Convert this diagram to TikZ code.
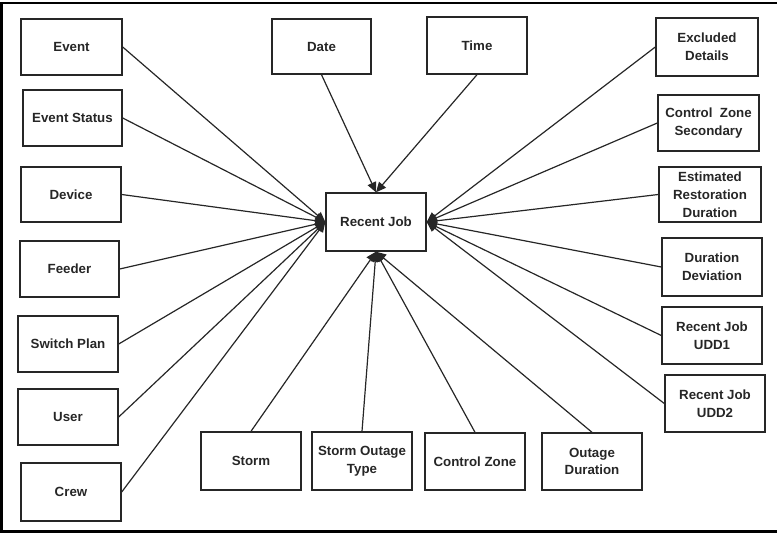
\documentclass[tikz,border=0pt]{standalone}
\usepackage{fontspec}
\setmainfont{Liberation Sans}
\usetikzlibrary{arrows.meta}
\tikzset{
  box/.style={draw=black!85, line width=1.4pt, rectangle, minimum width=100pt, minimum height=56pt,
    inner sep=0pt, align=center, font=\fontsize{13.3}{17.8}\selectfont\bfseries, text=black!85},
  link/.style={draw=black!85, line width=1.2pt, -{Triangle[length=10pt,width=9pt]}},
  frame/.style={draw=black, line width=2.6pt}
}
\begin{document}
\begin{tikzpicture}[x=1pt,y=-1pt]
\useasboundingbox (0,0) rectangle (777,533);
\draw[frame] (778,2.8) -- (1.8,2.8) -- (1.8,531.2) -- (778,531.2);
% center
\node[box, minimum height=58pt] (rj) at (376,222) {Recent Job};
% left column
\node[box, minimum width=101pt] (event) at (71.5,47) {Event};
\node[box, minimum width=99pt] (evstatus) at (72.5,118) {Event Status};
\node[box, minimum height=55pt] (device) at (71,194.5) {Device};
\node[box, minimum width=99pt] (feeder) at (69.5,269) {Feeder};
\node[box] (switch) at (68,344) {Switch Plan};
\node[box] (user) at (68,417) {User};
\node[box, minimum height=58pt] (crew) at (71,492) {Crew};
% top
\node[box, minimum width=99pt, minimum height=55pt] (date) at (321.5,46.5) {Date};
\node[box, minimum height=57pt] (time) at (477,45.5) {Time};
% bottom
\node[box, minimum height=58pt] (storm) at (251,461) {Storm};
\node[box, minimum height=58pt] (sot) at (362,461) {Storm Outage\\Type};
\node[box, minimum height=57pt] (cz) at (475,461.5) {Control Zone};
\node[box, minimum height=57pt] (od) at (592,461.5) {Outage\\Duration};
% right column
\node[box, minimum width=102pt, minimum height=58pt] (excl) at (707,47) {Excluded\\Details};
\node[box, minimum width=101pt] (czs) at (708.5,123) {Control~ Zone\\Secondary};
\node[box, minimum width=102pt, minimum height=55pt] (erd) at (710,194.5) {Estimated\\Restoration\\Duration};
\node[box, minimum height=58pt] (dd) at (712,267) {Duration\\Deviation};
\node[box, minimum height=57pt] (udd1) at (712,335.5) {Recent Job\\UDD1};
\node[box, minimum height=57pt] (udd2) at (715,403.5) {Recent Job\\UDD2};
% connectors
\foreach \n in {event,evstatus,device,feeder,switch,user,crew}
  \draw[link] (\n.east) -- (rj.west);
\foreach \n in {date,time}
  \draw[link] (\n.south) -- (rj.north);
\foreach \n in {storm,sot,cz,od}
  \draw[link] (\n.north) -- (rj.south);
\foreach \n in {excl,czs,erd,dd,udd1,udd2}
  \draw[link] (\n.west) -- (rj.east);
\end{tikzpicture}
\end{document}
